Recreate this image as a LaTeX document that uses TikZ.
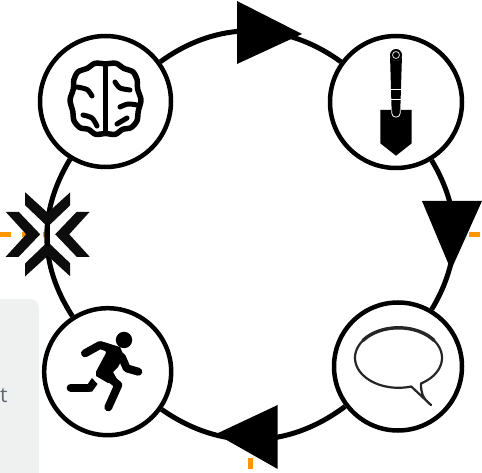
\documentclass[tikz,border=0pt]{standalone}
\usepackage{xcolor}
\usepackage{fontspec}
\setsansfont{Open Sans}
\usetikzlibrary{shapes, arrows, positioning, calc}
\definecolor{tickorange}{HTML}{FF9500}
\definecolor{panelgrey}{HTML}{EFF1F1}
\definecolor{textgrey}{HTML}{5F676E}
\tikzset{
  stage/.style={draw=black,fill=white,circle,line width=4.5pt,inner sep=0pt},
  ringline/.style={line width=5pt,black},
  tickmark/.style={line width=5pt,tickorange},
  iconline/.style={line width=5.5pt,line cap=round,line join=round,black},
  limb/.style={line width=8pt,line cap=round,line join=round,black}
}
\begin{document}
\begin{tikzpicture}[x=1pt,y=-1pt]
  \useasboundingbox (0,0) rectangle (482,473);

  % Side panel cut by the edge
  \fill[panelgrey,rounded corners=9pt] (-20,299) rectangle (39,500);
  \node[font=\sffamily\fontsize{21}{21}\selectfont,text=textgrey,inner sep=0pt] (cutword) at (3.9,396) {t};

  % Orange ticks
  \coordinate (tickL) at (0,234.3);
  \coordinate (tickLend) at (45,234.3);
  \coordinate (tickR) at (469,234.5);
  \coordinate (tickRend) at (480,234.5);
  \coordinate (tickB) at (250.5,458);
  \coordinate (tickBend) at (250.5,469);
  \draw[tickmark,dash pattern=on 10.5pt off 11pt] (tickL) -- (tickLend);
  \draw[tickmark] (tickR) -- (tickRend);
  \draw[tickmark] (tickB) -- (tickBend);

  % Stages
  \node[stage,minimum size=131pt] (brain) at (105.5,101.5) {};
  \node[stage,minimum size=132pt] (shovel) at (396,102) {};
  \node[stage,minimum size=128pt] (speech) at (398,366.5) {};
  \node[stage,minimum size=127pt] (runner) at (107.7,371.7) {};

  % Ring between the stages
  \draw[ringline] (brain) to[bend left=36] (shovel);
  \draw[ringline] (shovel) to[bend left=31] (speech);
  \draw[ringline] (speech) to[bend left=36] (runner);
  \draw[ringline] (runner) to[bend left=32] (brain);

  % Arrow heads
  \fill (237,1) -- (302,34) -- (237,64) -- cycle;
  \fill (422,201) -- (482,201) -- (451,270) -- cycle;
  \fill (277.7,405) -- (216,434) -- (277.7,469) -- cycle;

  % Crossing mark on the left
  \coordinate (cross) at (47.7,234.3);
  \foreach \turn in {0,90,180,270}{
    \fill[black!95,shift={(cross)},rotate=\turn] (-42,-22.5) -- (-29,-22.5) -- (-7.5,0) -- (-29,22.5) -- (-42,22.5) -- (-21.5,0) -- cycle;
  }
  \draw[line width=4pt] (47.7,222) -- (47.7,246);

  % Brain
  \foreach \flip/\move in {1/0,-1/211}{
    \draw[iconline,shift={(\move,0)},xscale=\flip] plot[smooth] coordinates {(105.5,64) (95,63.3) (87.3,68.3) (78.3,71.7) (74,79.3) (73.3,89.3) (70,100) (72.7,111) (74,120.7) (80,127.7) (88.3,129.3) (95.7,134.3) (105.5,133.3)};
  }
  \draw[iconline] (105.5,64) -- (105.5,133);
  \draw[iconline,line width=5pt] plot[smooth] coordinates {(77,87) (87,89.5) (92,96)};
  \draw[iconline,line width=5pt] plot[smooth] coordinates {(83,115) (92,118) (97,126)};
  \draw[iconline,line width=5pt] plot[smooth] coordinates {(115,82) (120,88) (130,90)};
  \draw[iconline,line width=5pt] plot[smooth] coordinates {(120,107) (128,104) (137,105)};
  \draw[iconline,line width=5pt] plot[smooth] coordinates {(117,124) (127,118)};

  % Shovel
  \fill (380.3,110) -- (411.7,110) -- (411.7,143.3) -- (396,155.7) -- (380.3,143.3) -- cycle;
  \fill (390,55) arc[start angle=180,end angle=0,radius=6] -- (400.3,110) -- (400.3,113) .. controls (400.3,118.5) and (391.7,118.5) .. (391.7,113) -- cycle;
  \draw[white,line width=0.8pt] (391.7,110) -- (391.7,113) .. controls (391.7,118.5) and (400.3,118.5) .. (400.3,113) -- (400.3,110);
  \draw[white,line width=0.8pt] (390.5,89.5) -- (401.5,89.5) (391,99) -- (401,99);
  \fill[black] (396,55) circle[radius=6];
  \draw[white!85!black,line width=0.8pt] (396,55) circle[radius=3.5];

  % Speech bubble
  \draw[line width=2.2pt,black!85,line join=round] (431,405) .. controls (422,398) and (421,392) .. (421,384) -- plot[domain=59:-287,samples=80] ({398.5+43.5*cos(\x)},{357.8+30*sin(\x)}) -- cycle;
  \draw[line width=3.4pt,black!85] plot[domain=-145:-35,samples=30] ({398.5+43.5*cos(\x)},{357.8+30*sin(\x)});

  % Runner
  \fill (124,340) circle[radius=8.2];
  \draw[limb] (85,353.3) -- (100,345) -- (115,350);
  \draw[limb] (121.7,356.7) -- (126.7,368.3) -- (138.3,371.7);
  \fill (103,342) -- (120,347) -- (124,356) -- (118,367) -- (113,372) -- (118,381) -- (108,383) -- (96,376) -- (96,371.7) -- (106,353) -- cycle;
  \draw[limb] (107,376) -- (118.3,385) -- (108.3,407.3);
  \draw[white,line width=1.5pt] (90,372) -- (100,384);
  \draw[limb] (70.7,387.7) -- (89,387.7);
  \fill (88,383.7) -- (92,378) -- (97.5,384) -- (92,391.7) -- (88,391.7) -- cycle;
\end{tikzpicture}
\end{document}
